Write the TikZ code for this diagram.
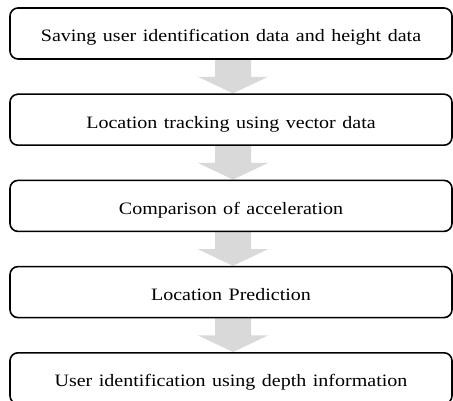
\documentclass[tikz,border=0pt]{standalone}
\usepackage{fontspec}
\setmainfont{Liberation Serif}[FakeStretch=1.15]
\usetikzlibrary{calc,positioning,backgrounds}

\tikzset{
    stepbox/.style={draw=black, line width=1.6pt, rounded corners=8pt, fill=white,
        minimum width=442pt, minimum height=51pt, inner sep=0pt,
        text height=17pt, text depth=0pt,
        font=\fontsize{17.4}{20}\selectfont,
        execute at begin node={\spaceskip=6.5pt\relax}},
    flowarrow/.style={fill=black!15, draw=none}
}

\begin{document}
\begin{tikzpicture}[x=1pt, y=-1pt]
    \useasboundingbox (0,0) rectangle (453,401);

    % steps of the procedure
    \node[stepbox] (s1) at (231,33.5) {Saving user identification data and height data};
    \node[stepbox, below=33.6pt of s1] (s2) {Location tracking using vector data};
    \node[stepbox, below=33.6pt of s2] (s3) {Comparison of acceleration};
    \node[stepbox, below=33.6pt of s3] (s4) {Location Prediction};
    \node[stepbox, below=33.6pt of s4] (s5) {User identification using depth information};

    % gray block arrows between the steps
    \begin{scope}[on background layer]
    \foreach \a/\b in {s1/s2, s2/s3, s3/s4, s4/s5} {
        \fill[flowarrow] ($(\a.south)+(-16,0)$) -- ($(\a.south)+(20,0)$)
            -- ($(\a.south)+(20,17)$) -- ($(\a.south)+(37,17)$)
            -- ($(\b.north)+(2,0)$)
            -- ($(\a.south)+(-33,17)$) -- ($(\a.south)+(-16,17)$) -- cycle;
    }
    \end{scope}
\end{tikzpicture}
\end{document}
